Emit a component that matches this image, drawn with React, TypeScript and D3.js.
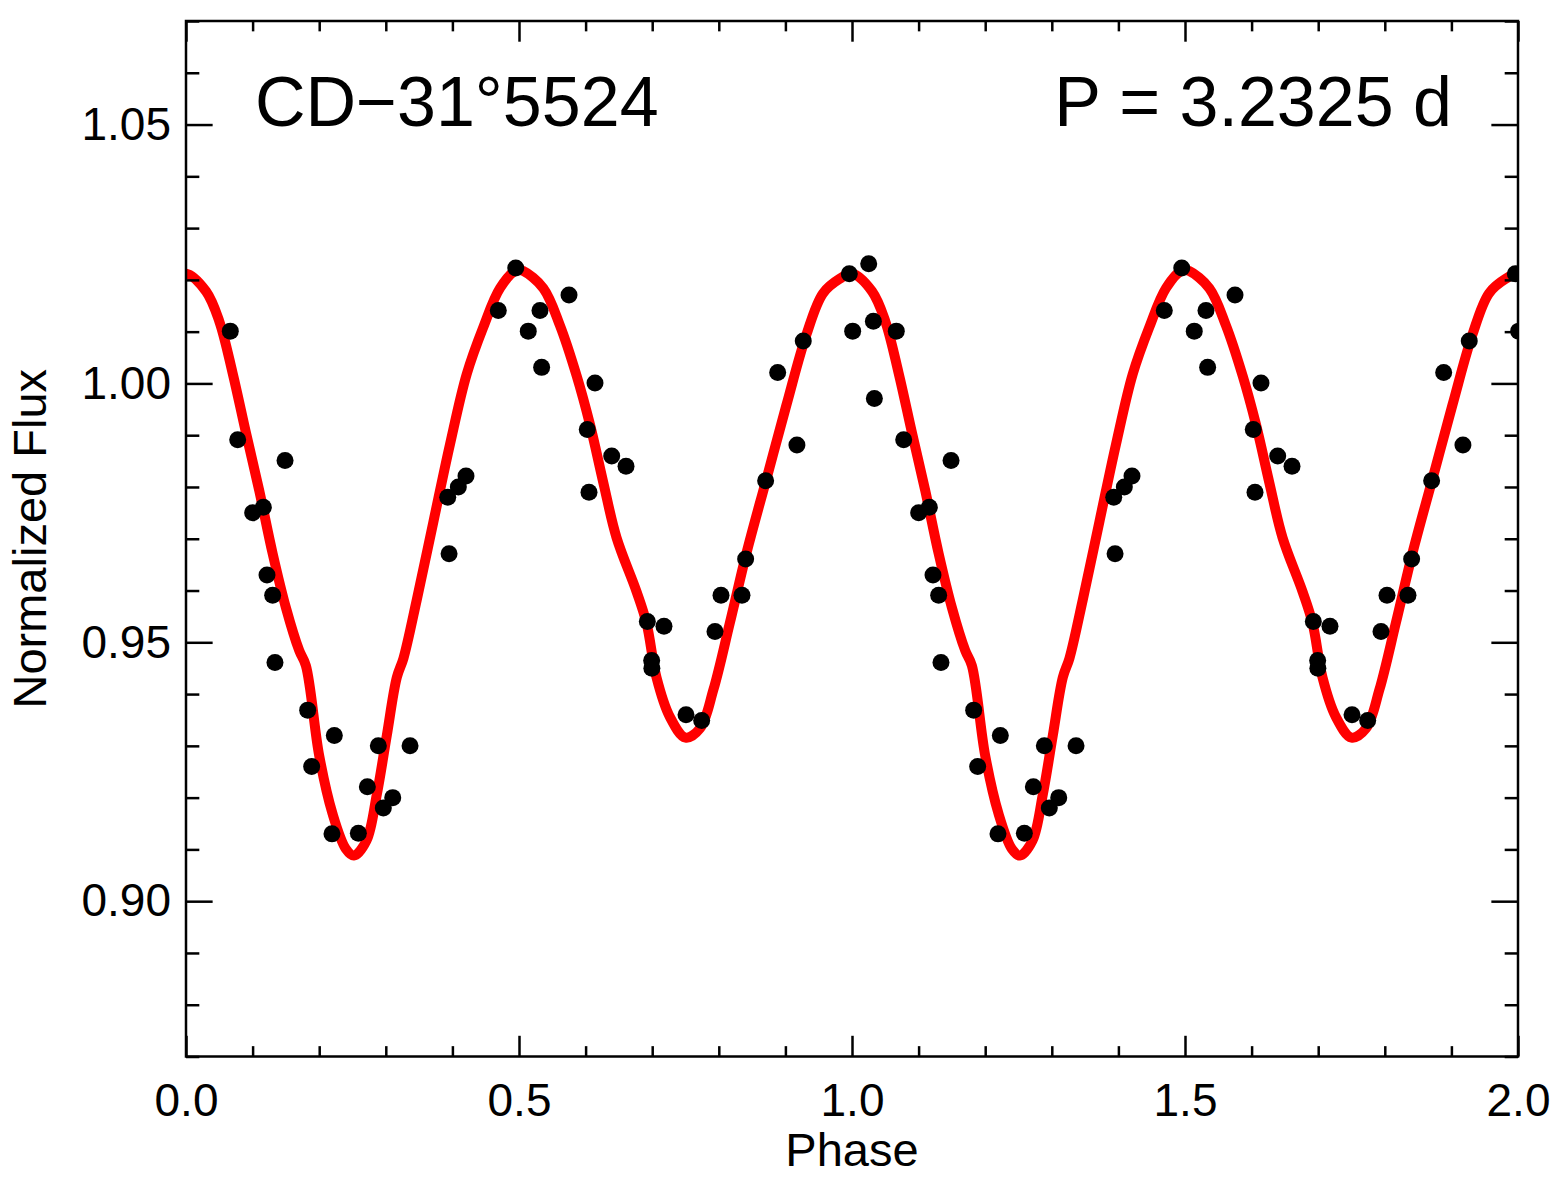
import { useEffect, useRef } from "react"
import * as d3 from "d3"

// observed points (phase, normalized flux), drawn again at phase + 1
const phaseObs = [
  0.0665, 0.0776, 0.1001, 0.1161, 0.1216, 0.1301, 0.1336, 0.1487, 0.1827, 0.1887,
  0.2192, 0.2227, 0.2588, 0.2723, 0.2888, 0.2963, 0.3104, 0.3364, 0.393, 0.395,
  0.4089, 0.4204, 0.4689, 0.4951, 0.5139, 0.5315, 0.534, 0.5751, 0.6025, 0.6051,
  0.6141, 0.6392, 0.6607, 0.6927, 0.6992, 0.6995, 0.7177, 0.7508, 0.7743, 0.7943,
  0.8033, 0.8348, 0.8403, 0.8703, 0.8884, 0.9173, 0.9268, 0.996, 1.001, 1.0251,
  1.0321, 1.0336,
]
const fluxObs = [
  1.0101, 0.9891, 0.975, 0.9761, 0.963, 0.9591, 0.9461, 0.9851, 0.9369, 0.926,
  0.913, 0.932, 0.9131, 0.9221, 0.93, 0.918, 0.92, 0.93, 0.978, 0.9671,
  0.98, 0.9821, 1.0141, 1.0223, 1.0101, 1.0141, 1.0031, 1.0171, 0.9911, 0.979,
  1.0001, 0.986, 0.984, 0.954, 0.9465, 0.945, 0.9531, 0.936, 0.9349, 0.9521,
  0.9591, 0.9591, 0.9661, 0.9812, 1.0021, 0.9881, 1.0082, 1.0212, 1.0101, 1.0231,
  1.012, 0.9971,
]

// fitted model, one cycle
const phaseModel = [
  0, 0.03, 0.05, 0.07, 0.09, 0.11, 0.13, 0.15, 0.17, 0.18,
  0.2, 0.22, 0.24, 0.252, 0.271, 0.2865, 0.3015, 0.3165, 0.3265, 0.3465,
  0.3715, 0.3965, 0.4215, 0.4465, 0.4715, 0.4965, 0.5065, 0.5365, 0.5615, 0.5865,
  0.6065, 0.6265, 0.6465, 0.6765, 0.6915, 0.7065, 0.7265, 0.75, 0.772, 0.792,
  0.8165, 0.8415, 0.8715, 0.9015, 0.9315, 0.9565, 0.9815, 1.0,
]
const fluxModel = [
  1.0212, 1.0178, 1.012, 1.002, 0.9905, 0.9793, 0.9672, 0.9567, 0.9484, 0.9455,
  0.9281, 0.9169, 0.9101, 0.9088, 0.9117, 0.9206, 0.932, 0.9432, 0.9469, 0.9582,
  0.9733, 0.9883, 1.0018, 1.0109, 1.0184, 1.0219, 1.0217, 1.0184, 1.0112, 1.0015,
  0.9921, 0.9809, 0.9702, 0.9598, 0.9537, 0.9432, 0.9356, 0.9316, 0.9334, 0.9409,
  0.9537, 0.9672, 0.9815, 0.9958, 1.0094, 1.0174, 1.0202, 1.0212,
]

const cycles = [0, 1]
const xMajor = [0, 0.5, 1.0, 1.5, 2.0]
const yMajor = [0.9, 0.95, 1.0, 1.05]
const starName = "CD\u221231\u00b05524"
const periodLabel = "P = 3.2325 d"

const FONT = "'Liberation Sans', Arial, Helvetica, sans-serif"

export default function App() {
  const svgRef = useRef<SVGSVGElement>(null)

  useEffect(() => {
    if (!svgRef.current) return
    const svg = d3.select(svgRef.current)
    svg.selectAll("*").remove()

    const W = 1565
    const H = 1187
    const margin = { top: 21, right: 47, bottom: 130.5, left: 186 }
    const plotW = W - margin.left - margin.right
    const plotH = H - margin.top - margin.bottom

    const x = d3.scaleLinear().domain([0, 2]).range([margin.left, W - margin.right])
    const y = d3.scaleLinear().domain([0.87, 1.07]).range([H - margin.bottom, margin.top])

    // IDL style tick lengths: fraction of the plot size
    const xTickLen = plotH * 0.02
    const yTickLen = plotW * 0.02
    const notMajor = (list: number[]) => (v: number) => !list.some((m) => Math.abs(m - v) < 1e-6)
    const xMinor = d3.range(0, 21).map((i) => i / 10).filter(notMajor(xMajor))
    const yMinor = d3.range(87, 108).map((i) => i / 100).filter(notMajor(yMajor))

    svg
      .append("defs")
      .append("clipPath")
      .attr("id", "plot-clip")
      .append("rect")
      .attr("x", margin.left)
      .attr("y", margin.top)
      .attr("width", plotW)
      .attr("height", plotH)

    const plot = svg.append("g").attr("clip-path", "url(#plot-clip)")

    // model curve over both cycles (one extra sample each side so the ends are smooth)
    const modelPts: [number, number][] = []
    const n = phaseModel.length
    modelPts.push([phaseModel[n - 2] - 1, fluxModel[n - 2]])
    cycles.forEach((k) => {
      phaseModel.forEach((p, i) => {
        if (k > 0 && i === 0) return
        modelPts.push([p + k, fluxModel[i]])
      })
    })
    modelPts.push([phaseModel[1] + 2, fluxModel[1]])

    const line = d3
      .line<[number, number]>()
      .x((d) => x(d[0]))
      .y((d) => y(d[1]))
      .curve(d3.curveCatmullRom.alpha(0.5))

    plot
      .append("path")
      .datum(modelPts)
      .attr("fill", "none")
      .attr("stroke", "#ff0000")
      .attr("stroke-width", 10)
      .attr("stroke-linejoin", "round")
      .attr("d", line)

    // observed points
    const obsPts: [number, number][] = []
    cycles.forEach((k) => {
      phaseObs.forEach((p, i) => obsPts.push([p + k, fluxObs[i]]))
    })
    plot
      .selectAll(".obs")
      .data(obsPts)
      .enter()
      .append("circle")
      .attr("class", "obs")
      .attr("cx", (d) => x(d[0]))
      .attr("cy", (d) => y(d[1]))
      .attr("r", 8.5)
      .attr("fill", "#000")

    const styleAxis = (g: d3.Selection<SVGGElement, unknown, null, undefined>) => {
      g.select(".domain").remove()
      g.selectAll("line").attr("stroke", "#000").attr("stroke-width", 2.5)
      g.selectAll("text").style("font-family", FONT).style("font-size", "46px").attr("fill", "#000")
    }

    const yBottom = H - margin.bottom
    const xRight = W - margin.right

    // bottom axis
    svg
      .append("g")
      .attr("transform", `translate(0,${yBottom})`)
      .call(d3.axisBottom(x).tickValues(xMajor).tickSize(-xTickLen).tickPadding(27).tickFormat(d3.format(".1f")))
      .call(styleAxis)
    svg
      .append("g")
      .attr("transform", `translate(0,${yBottom})`)
      .call(d3.axisBottom(x).tickValues(xMinor).tickSize(-xTickLen / 2).tickFormat(() => ""))
      .call(styleAxis)

    // top axis
    svg
      .append("g")
      .attr("transform", `translate(0,${margin.top})`)
      .call(d3.axisTop(x).tickValues(xMajor).tickSize(-xTickLen).tickFormat(() => ""))
      .call(styleAxis)
    svg
      .append("g")
      .attr("transform", `translate(0,${margin.top})`)
      .call(d3.axisTop(x).tickValues(xMinor).tickSize(-xTickLen / 2).tickFormat(() => ""))
      .call(styleAxis)

    // left axis
    svg
      .append("g")
      .attr("transform", `translate(${margin.left},0)`)
      .call(d3.axisLeft(y).tickValues(yMajor).tickSize(-yTickLen).tickPadding(15).tickFormat(d3.format(".2f")))
      .call(styleAxis)
    svg
      .append("g")
      .attr("transform", `translate(${margin.left},0)`)
      .call(d3.axisLeft(y).tickValues(yMinor).tickSize(-yTickLen / 2).tickFormat(() => ""))
      .call(styleAxis)

    // right axis
    svg
      .append("g")
      .attr("transform", `translate(${xRight},0)`)
      .call(d3.axisRight(y).tickValues(yMajor).tickSize(-yTickLen).tickFormat(() => ""))
      .call(styleAxis)
    svg
      .append("g")
      .attr("transform", `translate(${xRight},0)`)
      .call(d3.axisRight(y).tickValues(yMinor).tickSize(-yTickLen / 2).tickFormat(() => ""))
      .call(styleAxis)

    // frame
    svg
      .append("rect")
      .attr("x", margin.left)
      .attr("y", margin.top)
      .attr("width", plotW)
      .attr("height", plotH)
      .attr("fill", "none")
      .attr("stroke", "#000")
      .attr("stroke-width", 2.5)

    // axis titles
    svg
      .append("text")
      .attr("x", margin.left + plotW / 2)
      .attr("y", 1166)
      .attr("text-anchor", "middle")
      .style("font-family", FONT)
      .style("font-size", "47px")
      .text("Phase")

    svg
      .append("text")
      .attr("transform", `translate(46,${margin.top + plotH / 2}) rotate(-90)`)
      .attr("text-anchor", "middle")
      .style("font-family", FONT)
      .style("font-size", "47px")
      .text("Normalized Flux")

    // annotations
    svg
      .append("text")
      .attr("x", 255)
      .attr("y", 126)
      .style("font-family", FONT)
      .style("font-size", "70px")
      .text(starName)

    svg
      .append("text")
      .attr("x", 1452)
      .attr("y", 126)
      .attr("text-anchor", "end")
      .style("font-family", FONT)
      .style("font-size", "70px")
      .text(periodLabel)
  }, [])

  return (
    <svg
      ref={svgRef}
      width={1565}
      height={1187}
      style={{ position: "absolute", left: 0, top: 0, background: "#fff" }}
    ></svg>
  )
}
